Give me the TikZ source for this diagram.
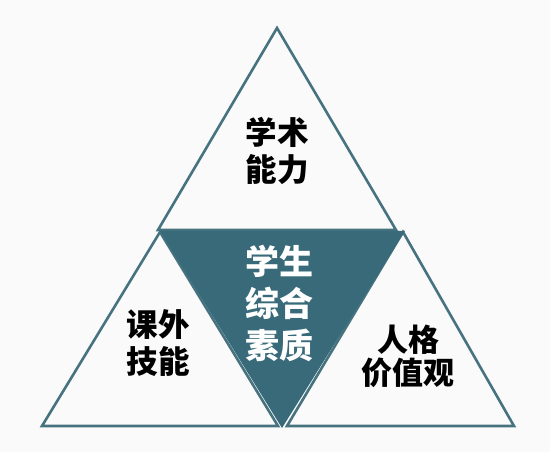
\documentclass[tikz,border=0pt]{standalone}
\usepackage{fontspec}
\newfontfamily\cjk{Noto Sans CJK SC}
\definecolor{edgec}{HTML}{46737F}
\definecolor{fillc}{HTML}{386A7A}
\definecolor{bgc}{HTML}{FAFAFA}
\begin{document}
\begin{tikzpicture}[x=1pt,y=-1pt,
  outline/.style={draw=edgec,line width=2.6pt,line join=miter},
  lbl/.style={font=\cjk\bfseries\fontsize{31.5}{37}\selectfont,align=center,text=black,inner sep=0pt},
  clbl/.style={font=\cjk\bfseries\fontsize{34}{42}\selectfont,align=center,text=white,inner sep=0pt}]
\fill[bgc] (0,0) rectangle (550,452);
\useasboundingbox (0,0) rectangle (550,452);
% top triangle
\draw[outline] (277,28) -- (158,230) -- (396,230) -- cycle;
% left triangle
\draw[outline] (160,232) -- (42,426) -- (278,426) -- cycle;
% right triangle
\draw[outline] (403,232) -- (287,426) -- (514,426) -- cycle;
% center inverted triangle
\fill[fillc] (160,231) -- (405,231) -- (282,428) -- cycle;
\node[lbl] (top) at (277,151) {学术\\能力};
\node[lbl] (left) at (158,343) {课外\\技能};
\node[lbl,font=\cjk\bfseries\fontsize{31}{33}\selectfont] (right) at (408,356) {人格\\价值观};
\node[clbl] (center) at (279,303) {学生\\综合\\素质};
\end{tikzpicture}
\end{document}
